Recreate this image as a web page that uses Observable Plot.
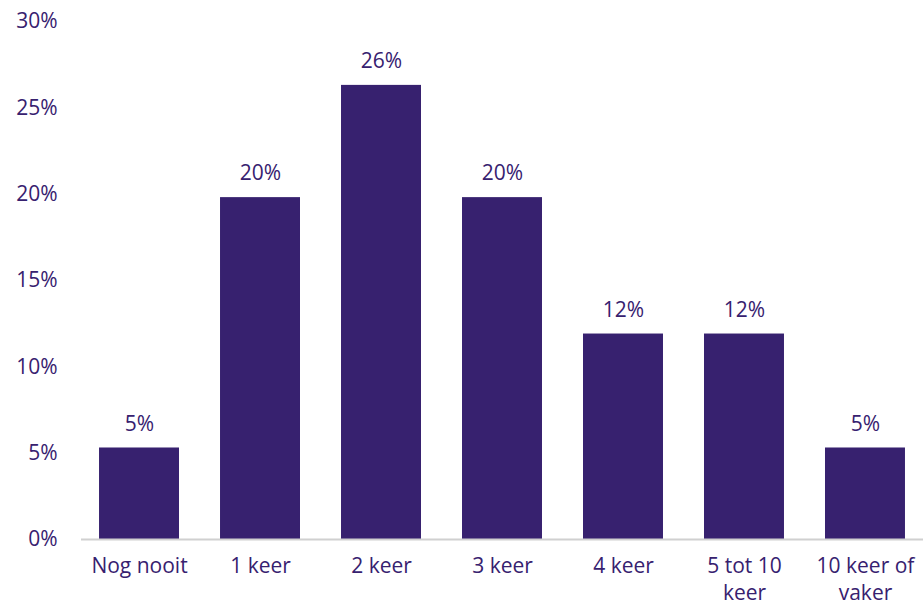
<!DOCTYPE html>
<html>
<head>
<meta charset="utf-8">
<script src="https://cdn.jsdelivr.net/npm/d3@7"></script>
<script src="https://cdn.jsdelivr.net/npm/@observablehq/plot@0.6"></script>
<style>
  html, body { margin: 0; padding: 0; background: #fff; }
  #chart svg { display: block; }
</style>
</head>
<body>
<div id="chart"></div>
<script>
const categories = ["Nog nooit", "1 keer", "2 keer", "3 keer", "4 keer", "5 tot 10\nkeer", "10 keer of\nvaker"];
const values = [5.3, 19.8, 26.3, 19.8, 11.9, 11.9, 5.3];
const valueLabels = ["5%", "20%", "26%", "20%", "12%", "12%", "5%"];
const yTicks = [0, 5, 10, 15, 20, 25, 30];

const data = categories.map((c, i) => ({cat: c, value: values[i], label: valueLabels[i]}));
const purple = "#37216f";
const font = "'Open Sans', 'Liberation Sans', Arial, sans-serif";

const chart = Plot.plot({
  width: 923,
  height: 605,
  marginLeft: 81,
  marginRight: 0,
  marginTop: 21,
  marginBottom: 66,
  style: {fontFamily: font, fontSize: "21px", color: purple, background: "#fff", overflow: "visible"},
  x: {domain: categories, paddingInner: 0.339, paddingOuter: 0.149, round: false, label: null},
  y: {domain: [0, 30], label: null},
  marks: [
    Plot.barY(data, {x: "cat", y: "value", fill: purple}),
    Plot.ruleY([0], {stroke: "#d0d0d0", strokeWidth: 2}),
    Plot.text(data, {x: "cat", y: "value", text: "label", dy: -24, fill: purple, fontSize: 21}),
    Plot.axisY(yTicks, {tickSize: 0, tickPadding: 24, tickFormat: d => d + "%", fill: purple, fontSize: 21, label: null}),
    Plot.axisX({tickSize: 0, tickPadding: 15, fill: purple, fontSize: 21, lineHeight: 1.27, label: null, textAnchor: "middle"})
  ]
});
document.getElementById("chart").appendChild(chart);
</script>
</body>
</html>
